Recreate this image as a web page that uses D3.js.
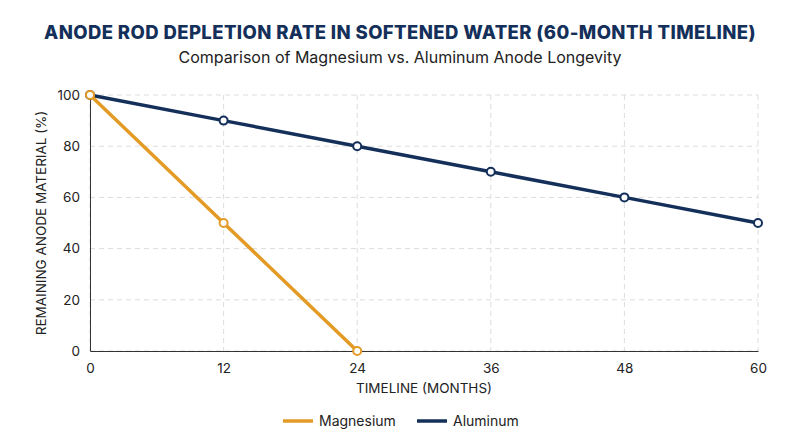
<!DOCTYPE html>
<html><head><meta charset="utf-8">
<script src="https://cdn.jsdelivr.net/npm/d3@7"></script>
<style>body{margin:0;background:#fff;font-family:Inter,"Open Sans",sans-serif;}</style>
</head><body><div id="chart"></div>
<script>
// Chart data
var months = [0, 12, 24, 36, 48, 60];
var magnesium = [100, 50, 0];
var aluminum = [100, 90, 80, 70, 60, 50];
var yTicks = [0, 20, 40, 60, 80, 100];

var svgWidth = 800, svgHeight = 447;
var margin = {top: 95, right: 42, bottom: 96, left: 90};
var width = svgWidth - margin.left - margin.right;
var height = svgHeight - margin.top - margin.bottom;

var svg = d3.select("#chart").append("svg")
    .attr("width", svgWidth).attr("height", svgHeight);

svg.append("text").attr("x", 400).attr("y", 39).attr("text-anchor", "middle")
    .attr("font-size", 18.5).attr("font-weight", 800).attr("fill", "#14305A")
    .attr("letter-spacing", 0.4)
    .text("ANODE ROD DEPLETION RATE IN SOFTENED WATER (60-MONTH TIMELINE)");
svg.append("text").attr("x", 400).attr("y", 63).attr("text-anchor", "middle")
    .attr("font-size", 16).attr("fill", "#222")
    .text("Comparison of Magnesium vs. Aluminum Anode Longevity");

var chartGroup = svg.append("g").attr("transform", `translate(${margin.left}, ${margin.top})`);

var x = d3.scaleLinear().domain([0, 60]).range([0, width]);
var y = d3.scaleLinear().domain([0, 100]).range([height, 0]);

// grid
chartGroup.selectAll(".vg").data(months).enter().append("line")
    .attr("x1", d => x(d)).attr("x2", d => x(d)).attr("y1", 0).attr("y2", height)
    .attr("stroke", "#ddd").attr("stroke-dasharray", "5,4");
chartGroup.selectAll(".hg").data(yTicks).enter().append("line")
    .attr("x1", 0).attr("x2", width).attr("y1", d => y(d)).attr("y2", d => y(d))
    .attr("stroke", "#ddd").attr("stroke-dasharray", "5,4");

var xAxis = chartGroup.append("g").attr("transform", `translate(0, ${height})`)
    .call(d3.axisBottom(x).tickValues(months).tickSize(0).tickPadding(12));
var yAxis = chartGroup.append("g")
    .call(d3.axisLeft(y).tickValues(yTicks).tickSize(0).tickPadding(10));
[xAxis, yAxis].forEach(a => {
    a.select(".domain").attr("stroke", "#333");
    a.selectAll("text").attr("font-size", 13.5).attr("fill", "#222").attr("font-family", "Inter,sans-serif");
});

chartGroup.append("text").attr("x", width / 2).attr("y", height + 42)
    .attr("text-anchor", "middle").attr("font-size", 13.5).attr("fill", "#222")
    .text("TIMELINE (MONTHS)");
chartGroup.append("text").attr("transform", "rotate(-90)")
    .attr("x", -height / 2).attr("y", -44).attr("text-anchor", "middle")
    .attr("font-size", 13.5).attr("fill", "#222")
    .text("REMAINING ANODE MATERIAL (%)");

function drawSeries(vals, color) {
    var pts = vals.map((v, i) => [months[i], v]);
    chartGroup.append("path").datum(pts)
        .attr("d", d3.line().x(d => x(d[0])).y(d => y(d[1])))
        .attr("fill", "none").attr("stroke", color).attr("stroke-width", 3.5);
    chartGroup.selectAll(null).data(pts).enter().append("circle")
        .attr("cx", d => x(d[0])).attr("cy", d => y(d[1])).attr("r", 4)
        .attr("fill", "#fff").attr("stroke", color).attr("stroke-width", 2);
}
drawSeries(aluminum, "#14305A");
drawSeries(magnesium, "#E39B26");

// legend
var legend = [["Magnesium", "#E39B26", 283], ["Aluminum", "#14305A", 417]];
legend.forEach(l => {
    svg.append("line").attr("x1", l[2]).attr("x2", l[2] + 30).attr("y1", 421).attr("y2", 421)
        .attr("stroke", l[1]).attr("stroke-width", 3.5);
    svg.append("text").attr("x", l[2] + 36).attr("y", 426).attr("font-size", 14)
        .attr("fill", "#222").text(l[0]);
});
</script></body></html>
